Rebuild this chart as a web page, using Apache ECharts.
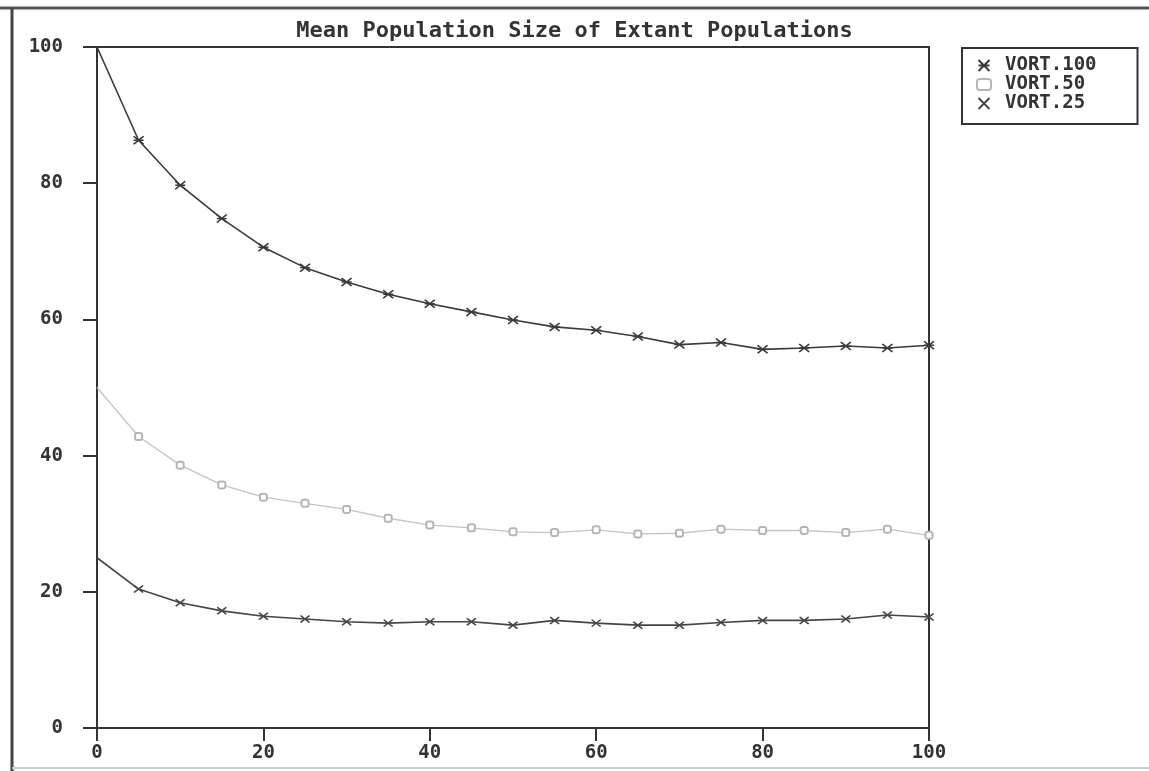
<!DOCTYPE html>
<html>
<head>
<meta charset="utf-8">
<script src="https://cdn.jsdelivr.net/npm/echarts@6/dist/echarts.min.js"></script>
<style>
  html, body { margin: 0; padding: 0; background: #fff; }
  #div_chart { width: 1149px; height: 771px; }
</style>
</head>
<body>
<div id="div_chart"></div>
<script>
// generation (x axis)
var xValues = [0, 5, 10, 15, 20, 25, 30, 35, 40, 45, 50, 55, 60, 65, 70, 75, 80, 85, 90, 95, 100];
// series values
var vort100 = [100, 86.3, 79.7, 74.8, 70.6, 67.6, 65.5, 63.7, 62.3, 61.1, 59.9, 58.9, 58.4, 57.5, 56.3, 56.6, 55.6, 55.8, 56.1, 55.8, 56.2];
var vort50 = [50, 42.8, 38.6, 35.7, 33.9, 33.0, 32.1, 30.8, 29.8, 29.4, 28.8, 28.7, 29.1, 28.5, 28.6, 29.2, 29.0, 29.0, 28.7, 29.2, 28.3];
var vort25 = [25, 20.4, 18.4, 17.2, 16.4, 16.0, 15.6, 15.4, 15.6, 15.6, 15.1, 15.8, 15.4, 15.1, 15.1, 15.5, 15.8, 15.8, 16.0, 16.6, 16.3];
var seriesNames = ['VORT.100', 'VORT.50', 'VORT.25'];
var xTicks = [0, 20, 40, 60, 80, 100];
var yTicks = [0, 20, 40, 60, 80, 100];

var monoFont = '"DejaVu Sans Mono", "Liberation Mono", monospace';

// marker shapes (strokes only)
var asteriskPath = 'path://M0,0 L10,10 M10,0 L0,10 M0,5 L10,5';
var crossPath = 'path://M0,0 L10,10 M10,0 L0,10';

function pair(xs, ys) {
    var out = [];
    for (var i = 0; i < xs.length; i++) {
        out.push([xs[i], ys[i]]);
    }
    return out;
}

// the first point of each curve has no marker in the original
function skipFirst(size) {
    return function (val, params) {
        return params.dataIndex === 0 ? 0 : size;
    };
}

var myChart = echarts.init(document.getElementById('div_chart'));
var option = {
    animation: false,
    backgroundColor: '#fff',
    title: {
        text: 'Mean Population Size of Extant Populations',
        left: 'center',
        top: 15,
        textStyle: {
            fontFamily: monoFont,
            fontWeight: 'bold',
            fontSize: 22,
            color: '#333'
        }
    },
    // page frame from the scanned figure
    graphic: [
        {type: 'line', shape: {x1: 0, y1: 8, x2: 1149, y2: 8}, style: {stroke: '#555', lineWidth: 3}},
        {type: 'line', shape: {x1: 12, y1: 8, x2: 12, y2: 771}, style: {stroke: '#444', lineWidth: 3}},
        {type: 'line', shape: {x1: 12, y1: 768, x2: 1149, y2: 768}, style: {stroke: '#ccc', lineWidth: 2}}
    ],
    legend: {
        orient: 'vertical',
        left: 962,
        top: 48,
        padding: [8, 41, 11, 14],
        itemGap: 0,
        itemWidth: 14,
        itemHeight: 11,
        backgroundColor: '#fff',
        borderColor: '#333',
        borderWidth: 2,
        borderRadius: 0,
        textStyle: {
            fontFamily: monoFont,
            fontWeight: 'bold',
            fontSize: 19,
            color: '#333',
            padding: [0, 0, 0, 9]
        },
        data: [
            {name: seriesNames[0], icon: asteriskPath},
            {name: seriesNames[1], icon: 'emptyRoundRect'},
            {name: seriesNames[2], icon: crossPath}
        ]
    },
    grid: {
        left: 97,
        right: 220,
        top: 47,
        bottom: 43,
        show: true,
        borderColor: '#333',
        borderWidth: 2,
        backgroundColor: 'transparent'
    },
    xAxis: {
        type: 'value',
        min: xTicks[0],
        max: xTicks[xTicks.length - 1],
        interval: 20,
        axisLine: {lineStyle: {color: '#333', width: 2}},
        axisTick: {show: true, length: 13, lineStyle: {color: '#333', width: 2}},
        axisLabel: {
            margin: 16,
            fontFamily: monoFont,
            fontWeight: 'bold',
            fontSize: 19,
            color: '#333'
        },
        splitLine: {show: false}
    },
    yAxis: {
        type: 'value',
        min: yTicks[0],
        max: yTicks[yTicks.length - 1],
        interval: 20,
        axisLine: {show: true, lineStyle: {color: '#333', width: 2}},
        axisTick: {show: true, length: 14, lineStyle: {color: '#333', width: 2}},
        axisLabel: {
            margin: 34,
            fontFamily: monoFont,
            fontWeight: 'bold',
            fontSize: 19,
            color: '#333'
        },
        splitLine: {show: false}
    },
    series: [
        {
            name: seriesNames[0],
            type: 'line',
            data: pair(xValues, vort100),
            symbol: asteriskPath,
            symbolSize: skipFirst([10, 8]),
            showAllSymbol: true,
            lineStyle: {color: '#3a3a3a', width: 1.6},
            itemStyle: {color: '#3a3a3a', borderColor: '#3a3a3a', borderWidth: 1.6}
        },
        {
            name: seriesNames[1],
            type: 'line',
            data: pair(xValues, vort50),
            symbol: 'emptyRoundRect',
            symbolSize: skipFirst(7),
            showAllSymbol: true,
            lineStyle: {color: '#c4c4c4', width: 1.3},
            itemStyle: {color: '#b5b5b5', borderColor: '#b5b5b5', borderWidth: 1.2}
        },
        {
            name: seriesNames[2],
            type: 'line',
            data: pair(xValues, vort25),
            symbol: crossPath,
            symbolSize: skipFirst([9, 7]),
            showAllSymbol: true,
            lineStyle: {color: '#454545', width: 1.6},
            itemStyle: {color: '#454545', borderColor: '#454545', borderWidth: 1.6}
        }
    ]
};
myChart.setOption(option);
</script>
</body>
</html>
